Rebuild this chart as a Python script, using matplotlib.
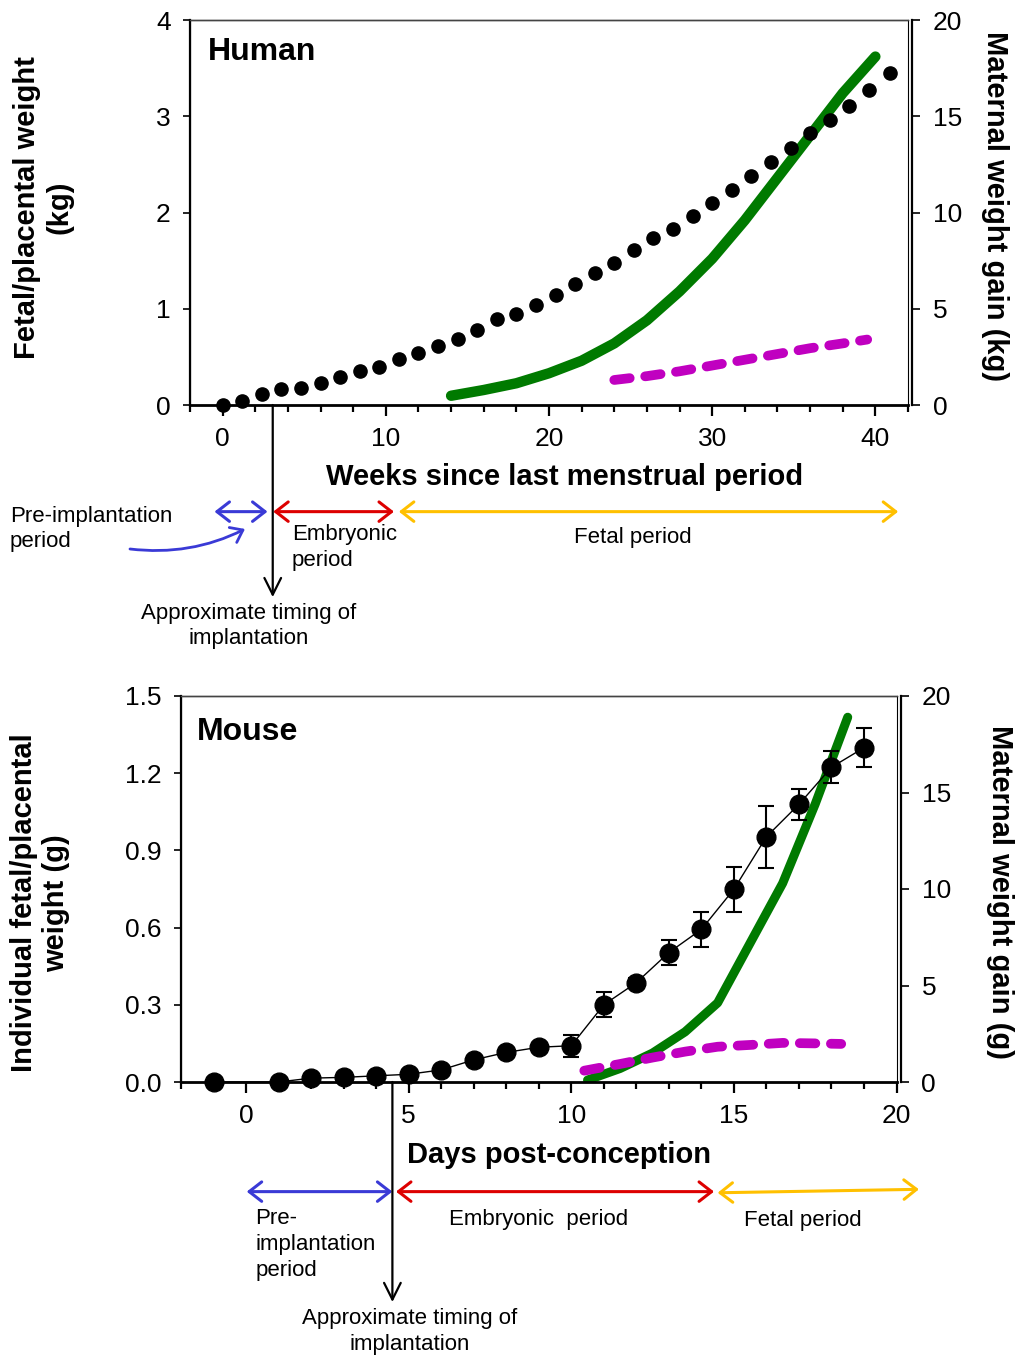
import numpy as np
import matplotlib
matplotlib.use("Agg")
import matplotlib.pyplot as plt

plt.rcParams['font.family'] = ['Liberation Sans', 'DejaVu Sans']

# ---- human data (weeks since LMP) ----
human_week = [0.0, 1.2, 2.4, 3.6, 4.8, 6.0, 7.2, 8.4, 9.6, 10.8, 12.0, 13.2,
              14.4, 15.6, 16.8, 18.0, 19.2, 20.4, 21.6, 22.8, 24.0, 25.2, 26.4,
              27.6, 28.8, 30.0, 31.2, 32.4, 33.6, 34.8, 36.0, 37.2, 38.4, 39.6, 40.9]
human_fetal = [0.00, 0.04, 0.11, 0.17, 0.18, 0.23, 0.29, 0.35, 0.40, 0.48, 0.54, 0.61,
               0.69, 0.78, 0.89, 0.95, 1.04, 1.14, 1.26, 1.37, 1.48, 1.61, 1.73,
               1.83, 1.96, 2.10, 2.23, 2.38, 2.52, 2.67, 2.83, 2.96, 3.11, 3.27, 3.45]
human_mat_week = [14, 16, 18, 20, 22, 24, 26, 28, 30, 32, 34, 36, 38, 40]
human_mat_gain = [0.48, 0.78, 1.13, 1.65, 2.3, 3.2, 4.4, 5.9, 7.6, 9.6, 11.8, 14.0, 16.2, 18.1]
human_plac_week = [24, 26, 28, 30, 32, 34, 36, 38, 39.5]
human_plac = [0.26, 0.30, 0.35, 0.41, 0.47, 0.53, 0.59, 0.64, 0.68]

# ---- mouse data (days post-conception) ----
mouse_day = [-1, 1, 2, 3, 4, 5, 6, 7, 8, 9, 10, 11, 12, 13, 14, 15, 16, 17, 18, 19]
mouse_fetal = [0.0, 0.0, 0.015, 0.018, 0.024, 0.03, 0.047, 0.086, 0.115, 0.135, 0.141,
               0.30, 0.386, 0.503, 0.593, 0.749, 0.953, 1.079, 1.223, 1.299]
mouse_err = [0.0, 0.0, 0.003, 0.003, 0.004, 0.005, 0.008, 0.01, 0.01, 0.015, 0.042,
             0.049, 0.02, 0.049, 0.068, 0.087, 0.12, 0.059, 0.063, 0.076]
mouse_mat_day = [10.5, 11.5, 12.5, 13.5, 14.5, 15.5, 16.5, 17.5, 18.5]
mouse_mat_gain = [0.1, 0.7, 1.5, 2.6, 4.1, 7.2, 10.3, 14.4, 18.9]
mouse_plac_day = [10.4, 11.5, 12.5, 13.5, 14.5, 15.5, 16.5, 17.5, 18.3]
mouse_plac = [0.044, 0.07, 0.095, 0.118, 0.137, 0.144, 0.152, 0.15, 0.148]

GREEN = '#007A00'
MAGENTA = '#C000C0'
BLUE = '#3A3AD6'
RED = '#DD0000'
ORANGE = '#FFC000'

TICK_FS = 19
LABEL_FS = 21
NOTE_FS = 16

fig = plt.figure(figsize=(10.16, 13.58), dpi=100)


def style_axes(ax, ax2):
    for a in (ax, ax2):
        a.spines['top'].set_linewidth(1.0)
        a.spines['top'].set_color('#444444')
    ax.spines['left'].set_linewidth(1.6)
    ax.spines['bottom'].set_linewidth(2.0)
    ax2.spines['right'].set_linewidth(1.6)
    ax2.spines['right'].set_position(('outward', 3))
    ax.tick_params(axis='x', which='major', direction='out', length=8, width=1.6,
                   pad=8, labelsize=TICK_FS)
    ax.tick_params(axis='x', which='minor', direction='out', length=5, width=1.6)
    ax.tick_params(axis='y', direction='out', length=5, width=1.2, pad=9,
                   labelsize=TICK_FS)
    ax2.tick_params(axis='y', direction='out', length=6, width=1.2, pad=9,
                    labelsize=TICK_FS)
    # fetal/placental series drawn above the maternal line
    ax.set_zorder(ax2.get_zorder() + 1)
    ax.patch.set_visible(False)


def period_arrow(ax, x0, x1, y0, y1, color):
    ax.annotate('', xy=(x1, y1), xytext=(x0, y0),
                xycoords=('data', 'axes fraction'), textcoords=('data', 'axes fraction'),
                arrowprops=dict(arrowstyle='<->,head_length=0.45,head_width=0.35',
                                color=color, lw=2.2, shrinkA=0, shrinkB=0,
                                mutation_scale=20),
                annotation_clip=False)


def implant_arrow(ax, x, y_end):
    ax.annotate('', xy=(x, y_end), xytext=(x, 0.0),
                xycoords=('data', 'axes fraction'), textcoords=('data', 'axes fraction'),
                arrowprops=dict(arrowstyle='->,head_length=0.6,head_width=0.3',
                                color='black', lw=1.6, shrinkA=0, shrinkB=0,
                                mutation_scale=20),
                annotation_clip=False)


def note(ax, s, x, y, ha='center', xcoord='data'):
    ax.annotate(s, xy=(x, y), xycoords=(xcoord, 'axes fraction'), ha=ha, va='center',
                fontsize=NOTE_FS, linespacing=1.3, annotation_clip=False)


# ================= Human panel =================
ax = fig.add_axes([190 / 1016, 1 - 405 / 1358, 718 / 1016, 385 / 1358])
ax2 = ax.twinx()
style_axes(ax, ax2)

ax2.plot(human_mat_week, human_mat_gain, color=GREEN, lw=7.5, solid_capstyle='round')
ax.plot(human_week, human_fetal, 'o', color='black', ms=9.5, clip_on=False)
ax.plot(human_plac_week, human_plac, color=MAGENTA, lw=7,
        linestyle=(0, (1.6, 1.6)), dash_capstyle='round')

ax.set_xlim(-2, 42)
ax.set_ylim(0, 4)
ax2.set_ylim(0, 20)
ax.set_xticks([0, 10, 20, 30, 40])
ax.set_xticks(np.arange(-2, 43, 2), minor=True)
ax.set_yticks([0, 1, 2, 3, 4])
ax2.set_yticks([0, 5, 10, 15, 20])

ax.set_xlabel('Weeks since last menstrual period', fontsize=LABEL_FS, fontweight='bold')
ax.xaxis.set_label_coords(0.522, -0.187)
ax.xaxis.label.set_va('center')
ax.set_ylabel('Fetal/placental weight\n(kg)', fontsize=LABEL_FS, fontweight='bold',
              linespacing=1.2)
ax.yaxis.set_label_coords(-0.205, 0.513)
ax.yaxis.label.set(va='center', ha='center')
ax2.set_ylabel('Maternal weight gain (kg)', fontsize=LABEL_FS, fontweight='bold',
               rotation=270)
ax2.yaxis.set_label_coords(1.121, 0.517)
ax2.yaxis.label.set(va='center', ha='center')

ax.text(0.025, 0.917, 'Human', transform=ax.transAxes, fontsize=23,
        fontweight='bold', ha='left', va='center')

period_arrow(ax, -0.5, 2.75, -0.277, -0.277, BLUE)
period_arrow(ax, 3.1, 10.5, -0.277, -0.277, RED)
period_arrow(ax, 10.8, 41.4, -0.277, -0.277, ORANGE)
implant_arrow(ax, 3.07, -0.499)

note(ax, 'Pre-implantation\nperiod', -0.251, -0.322, ha='left', xcoord='axes fraction')
note(ax, 'Embryonic\nperiod', 4.25, -0.370, ha='left')
note(ax, 'Fetal period', 25.15, -0.345)
note(ax, 'Approximate timing of\nimplantation', 1.6, -0.574)
ax.annotate('', xy=(0.0766, -0.322), xytext=(-0.0836, -0.374),
            xycoords='axes fraction', textcoords='axes fraction',
            arrowprops=dict(arrowstyle='->,head_length=0.4,head_width=0.3',
                            color=BLUE, lw=2.0, shrinkA=0, shrinkB=0,
                            mutation_scale=20, connectionstyle='arc3,rad=0.15'),
            annotation_clip=False)

# ================= Mouse panel =================
bx = fig.add_axes([181 / 1016, 1 - 1082 / 1358, 715.5 / 1016, 386 / 1358])
bx2 = bx.twinx()
style_axes(bx, bx2)

bx2.plot(mouse_mat_day, mouse_mat_gain, color=GREEN, lw=6.5, solid_capstyle='round')
bx.errorbar(mouse_day, mouse_fetal, yerr=mouse_err, fmt='o-', color='black', lw=1.0,
            ms=13.5, elinewidth=1.5, capsize=6, capthick=1.5, clip_on=False)
bx.plot(mouse_plac_day, mouse_plac, color=MAGENTA, lw=7,
        linestyle=(0, (1.6, 1.6)), dash_capstyle='round')

bx.set_xlim(-2, 20)
bx.set_ylim(0, 1.5)
bx2.set_ylim(0, 20)
bx.set_xticks([0, 5, 10, 15, 20])
bx.set_xticks(np.arange(-2, 21, 1), minor=True)
bx.set_yticks([0.0, 0.3, 0.6, 0.9, 1.2, 1.5])
bx.set_yticklabels(['0.0', '0.3', '0.6', '0.9', '1.2', '1.5'])
bx2.set_yticks([0, 5, 10, 15, 20])

bx.set_xlabel('Days post-conception', fontsize=LABEL_FS, fontweight='bold')
bx.xaxis.set_label_coords(0.529, -0.189)
bx.xaxis.label.set_va('center')
bx.set_ylabel('Individual fetal/placental\nweight (g)', fontsize=LABEL_FS,
              fontweight='bold', linespacing=1.2)
bx.yaxis.set_label_coords(-0.197, 0.464)
bx.yaxis.label.set(va='center', ha='center')
bx2.set_ylabel('Maternal weight gain (g)', fontsize=LABEL_FS, fontweight='bold',
               rotation=270)
bx2.yaxis.set_label_coords(1.145, 0.492)
bx2.yaxis.label.set(va='center', ha='center')

bx.text(0.022, 0.907, 'Mouse', transform=bx.transAxes, fontsize=23,
        fontweight='bold', ha='left', va='center')

period_arrow(bx, 0.02, 4.5, -0.284, -0.284, BLUE)
period_arrow(bx, 4.61, 14.39, -0.284, -0.284, RED)
period_arrow(bx, 14.5, 20.69, -0.287, -0.278, ORANGE)
implant_arrow(bx, 4.5, -0.570)

note(bx, 'Pre-\nimplantation\nperiod', 0.28, -0.421, ha='left')
note(bx, 'Embryonic  period', 9.0, -0.355)
note(bx, 'Fetal period', 17.13, -0.358)
note(bx, 'Approximate timing of\nimplantation', 5.04, -0.647)

fig.savefig('out.png', dpi=100)
